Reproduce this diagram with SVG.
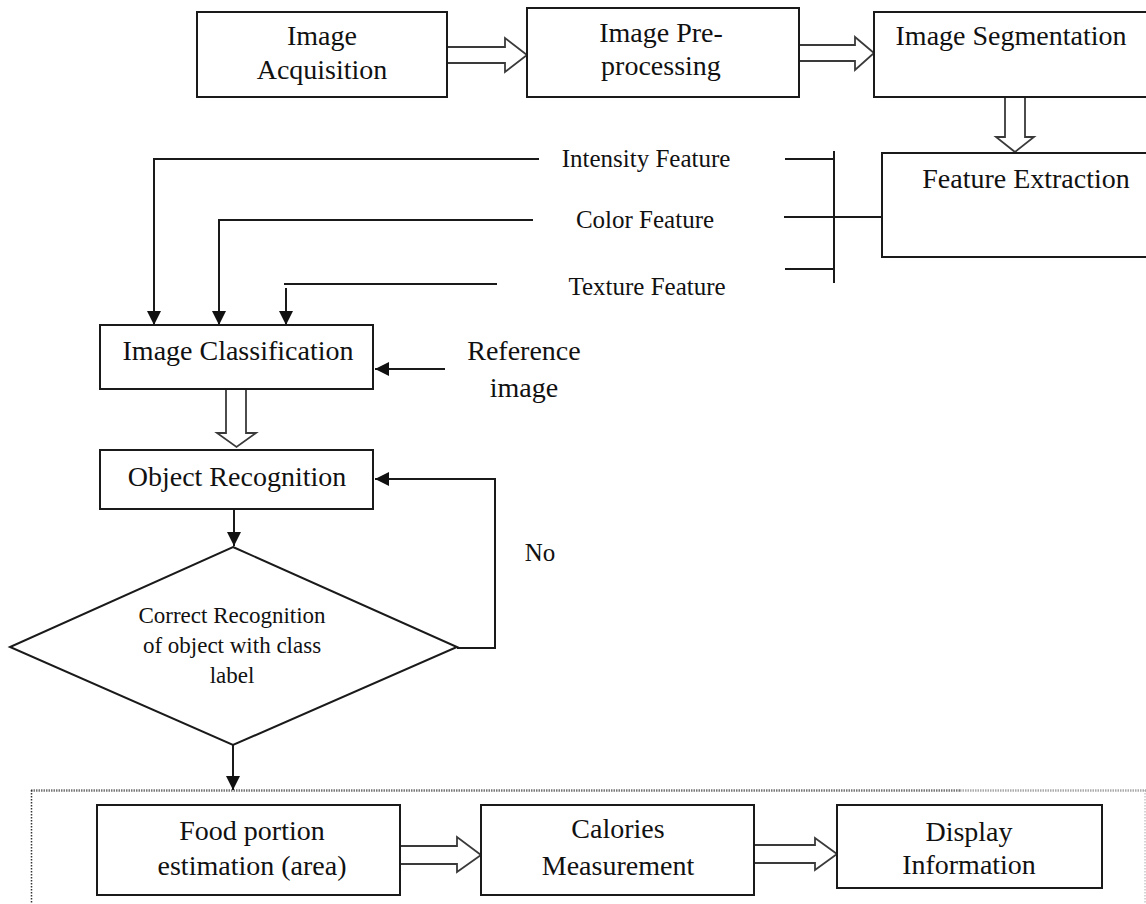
<svg xmlns="http://www.w3.org/2000/svg" width="1146" height="904" viewBox="0 0 1146 904">
<style>
.box{fill:#fff;stroke:#1a1a1a;stroke-width:2}
.blk{fill:#fff;stroke:#3a3a3a;stroke-width:1.8;stroke-linejoin:miter}
.ln{fill:none;stroke:#1a1a1a;stroke-width:2}
text{font-family:"Liberation Serif","Times New Roman",serif;fill:#111;text-anchor:middle}
.t{font-size:28px}
.f{font-size:25px}
.d{font-size:23px}
</style>
<defs>
<marker id="ah" markerUnits="userSpaceOnUse" markerWidth="14" markerHeight="14" refX="14" refY="7" orient="auto" viewBox="0 0 14 14">
<path d="M0,0 L14,7 L0,14 z" fill="#111"/>
</marker>
</defs>
<rect width="1146" height="904" fill="#fff"/>

<g id="container">
<line x1="31" y1="790.5" x2="960" y2="790.5" stroke="#777" stroke-width="2.5" stroke-dasharray="1.5 1"/>
<line x1="960" y1="790.5" x2="1146" y2="790.5" stroke="#aaa" stroke-width="2.5" stroke-dasharray="1.5 1"/>
<line x1="31.5" y1="790" x2="31.5" y2="904" stroke="#333" stroke-width="1.5" stroke-dasharray="1.5 1.5"/>
<line x1="1145" y1="790" x2="1145" y2="904" stroke="#aaa" stroke-width="1" stroke-dasharray="1.5 1.5"/>
</g>

<g id="connectors">
<polygon class="blk" points="447,47 505,47 505,38 527,55 505,72 505,63 447,63"/>
<polygon class="blk" points="799,45 855,45 855,37 874,53 855,70 855,61 799,61"/>
<polygon class="blk" points="1005,97 1025,97 1025,137 1034,137 1015,152 996,137 1005,137"/>
<polygon class="blk" points="226,389 246,389 246,433 256,433 236.5,447 217,433 226,433"/>
<polygon class="blk" points="400,846 457,846 457,837 481,855 457,872 457,864 400,864"/>
<polygon class="blk" points="754,845 815,845 815,838 837,854 815,870 815,863 754,863"/>
<path class="ln" d="M539,159 H154 V325" marker-end="url(#ah)"/>
<path class="ln" d="M533,220 H219 V325" marker-end="url(#ah)"/>
<path class="ln" d="M497,284 H284"/>
<path class="ln" d="M286,288 V325" marker-end="url(#ah)"/>
<path class="ln" d="M834,151 V283 M785,159 H834 M784,217 H834 M785,269 H834 M834,217 H882"/>
<path class="ln" d="M445,369 H375" marker-end="url(#ah)"/>
<path class="ln" d="M234,509 V546" marker-end="url(#ah)"/>
<path class="ln" d="M457,648 H495 V479 H375" marker-end="url(#ah)"/>
<path class="ln" d="M233,745 V790" marker-end="url(#ah)"/>
</g>

<g id="image-acquisition">
<rect class="box" x="197" y="12" width="250" height="85"/>
<text class="t" x="322" y="45">Image</text>
<text class="t" x="322" y="79">Acquisition</text>
</g>
<g id="image-preprocessing">
<rect class="box" x="527" y="8" width="272" height="89"/>
<text class="t" x="661" y="42">Image Pre-</text>
<text class="t" x="661" y="75">processing</text>
</g>
<g id="image-segmentation">
<rect class="box" x="874" y="12" width="280" height="85"/>
<text class="t" x="1011" y="45">Image Segmentation</text>
</g>
<g id="feature-extraction">
<rect class="box" x="882" y="153" width="272" height="104"/>
<text class="t" x="1026" y="188">Feature Extraction</text>
</g>
<g id="intensity-feature"><text class="f" x="646" y="167">Intensity Feature</text></g>
<g id="color-feature"><text class="f" x="645" y="228">Color Feature</text></g>
<g id="texture-feature"><text class="f" x="647" y="295">Texture Feature</text></g>
<g id="image-classification">
<rect class="box" x="100" y="325" width="273" height="64"/>
<text class="t" x="238" y="360">Image Classification</text>
</g>
<g id="reference-image">
<text class="t" x="524" y="360">Reference</text>
<text class="t" x="524" y="397">image</text>
</g>
<g id="object-recognition">
<rect class="box" x="100" y="450" width="273" height="59"/>
<text class="t" x="237" y="486">Object Recognition</text>
</g>
<g id="decision">
<polygon class="box" points="233,547 457,647 233,745 10,647"/>
<text class="d" x="232" y="623">Correct Recognition</text>
<text class="d" x="232" y="653">of object with class</text>
<text class="d" x="232" y="683">label</text>
</g>
<g id="no-label"><text class="f" x="540" y="561">No</text></g>
<g id="food-portion">
<rect class="box" x="97" y="805" width="303" height="90"/>
<text class="t" x="252" y="840">Food portion</text>
<text class="t" x="252" y="875">estimation (area)</text>
</g>
<g id="calories">
<rect class="box" x="481" y="805" width="273" height="90"/>
<text class="t" x="618" y="838">Calories</text>
<text class="t" x="618" y="875">Measurement</text>
</g>
<g id="display">
<rect class="box" x="837" y="805" width="265" height="83"/>
<text class="t" x="969" y="841">Display</text>
<text class="t" x="969" y="874">Information</text>
</g>
</svg>
